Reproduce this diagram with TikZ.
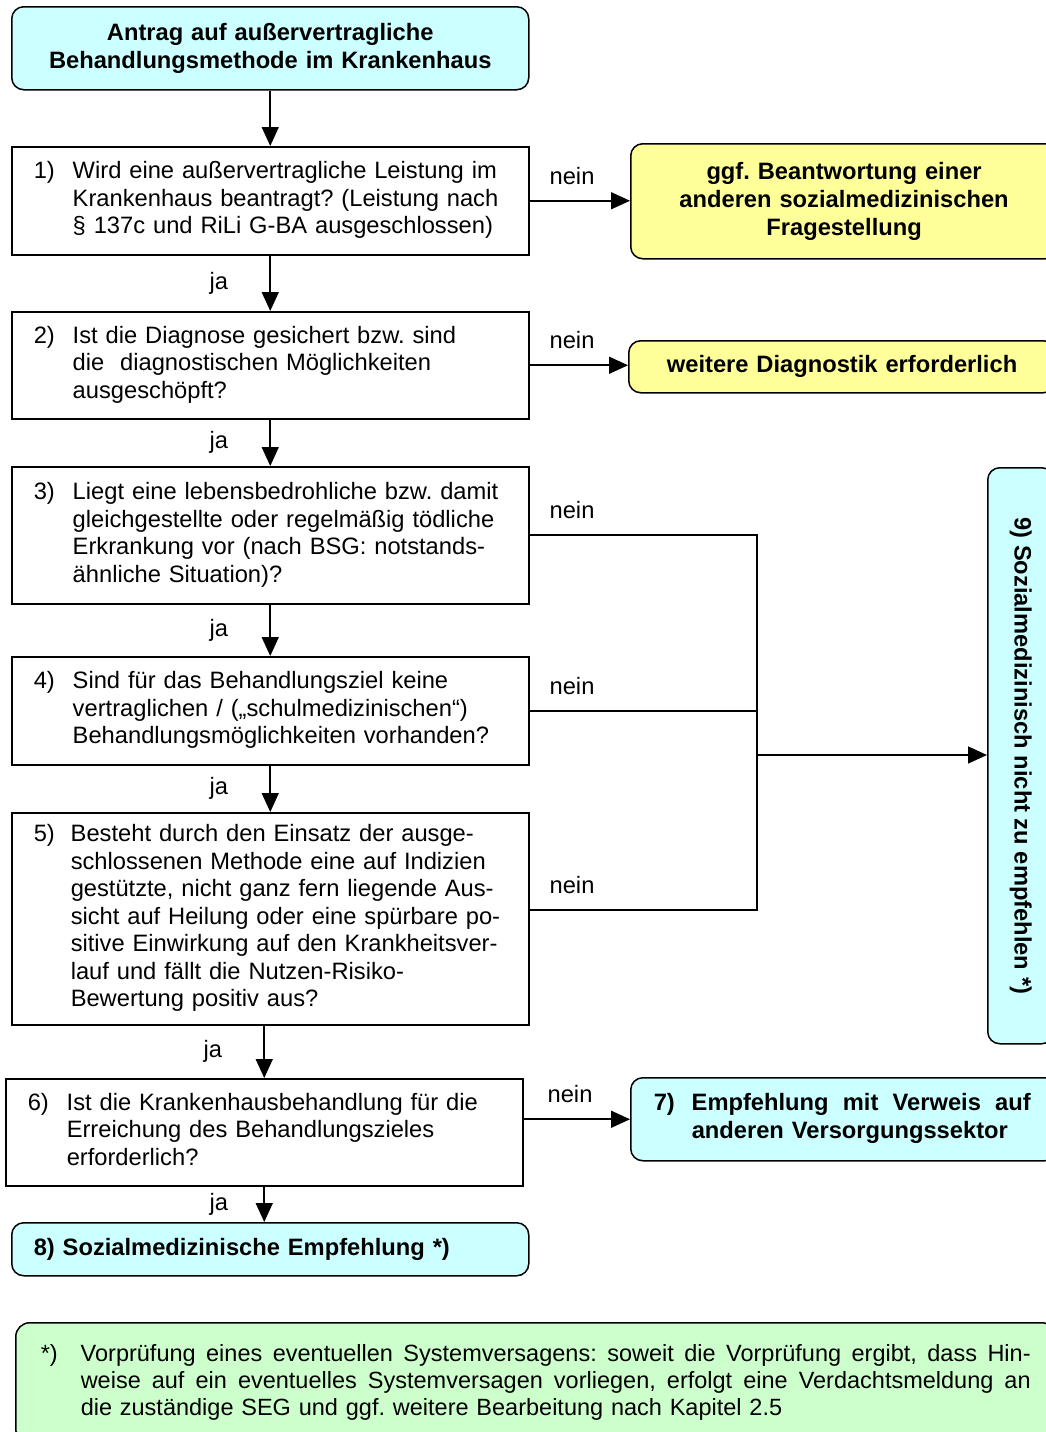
\documentclass[tikz,border=0pt]{standalone}
\usepackage{fontspec}
\setmainfont{Liberation Sans}
\usepackage{xcolor}
\usetikzlibrary{arrows.meta}
\usetikzlibrary{calc}
\frenchspacing

\definecolor{boxcyan}{HTML}{CCFFFF}
\definecolor{boxyellow}{HTML}{FFFF99}
\definecolor{boxgreen}{HTML}{CCFFCC}

\newcommand{\numtext}[3][39pt]{\begin{tabular}{@{}l@{}l@{}}\makebox[#1][l]{#2} & \begin{tabular}[t]{@{}l@{}}#3\end{tabular}\end{tabular}}
\newcommand{\fullline}[2]{\makebox[#1][s]{\spaceskip=0pt\xspaceskip=0pt #2}}

\begin{document}
\begin{tikzpicture}[x=1pt, y=-1pt,
    basefont/.style={font=\fontsize{23.7}{27.5}\selectfont},
    boldfont/.style={font=\fontsize{23.7}{28}\selectfont\bfseries},
    qbox/.style={draw, line width=1.5pt, fill=white, anchor=north west, minimum width=517pt,
      text width=473pt, inner xsep=22pt, basefont},
    endbox/.style={draw, line width=1.5pt, rounded corners=12pt, anchor=north west, boldfont},
    conn/.style={line width=1.6pt},
    arr/.style={conn, -{Triangle[length=19pt,width=17pt]}},
    nolbl/.style={anchor=south west, xshift=16pt, yshift=12pt, basefont},
    yeslbl/.style={anchor=east, xshift=-38pt, basefont}]
    \useasboundingbox (0,0) rectangle (1046,1432);

    \node[endbox, fill=boxcyan, minimum width=517pt, minimum height=83pt, text width=500pt, align=center]
      (antrag) at (11,6) {Antrag auf außervertragliche\\Behandlungsmethode im Krankenhaus};

    \node[qbox, minimum height=108pt] (q1) at (11,146)
      {\numtext{1)}{Wird eine außervertragliche Leistung im\\Krankenhaus beantragt? (Leistung nach\\§ 137c und RiLi G-BA ausgeschlossen)}};
    \node[qbox, minimum height=107pt] (q2) at (11,311)
      {\numtext{2)}{Ist die Diagnose gesichert bzw. sind\\die \ diagnostischen Möglichkeiten\\ausgeschöpft?}};
    \node[qbox, minimum height=137pt] (q3) at (11,466)
      {\numtext{3)}{Liegt eine lebensbedrohliche bzw. damit\\gleichgestellte oder regelmäßig tödliche\\Erkrankung vor (nach BSG: notstands-\\ähnliche Situation)?}};
    \node[qbox, minimum height=108pt] (q4) at (11,656)
      {\numtext{4)}{Sind für das Behandlungsziel keine\\vertraglichen / („schulmedizinischen“)\\Behandlungsmöglichkeiten vorhanden?}};
    \node[qbox, minimum height=212pt] (q5) at (11,812)
      {\numtext[37pt]{5)}{Besteht durch den Einsatz der ausge-\\schlossenen Methode eine auf Indizien\\gestützte, nicht ganz fern liegende Aus-\\sicht auf Heilung oder eine spürbare po-\\sitive Einwirkung auf den Krankheitsver-\\lauf und fällt die Nutzen-Risiko-\\Bewertung positiv aus?}};
    \node[qbox, minimum height=107pt] (q6) at (5,1078)
      {\numtext{6)}{Ist die Krankenhausbehandlung für die\\Erreichung des Behandlungszieles\\erforderlich?}};

    \node[endbox, fill=boxyellow, minimum width=426pt, minimum height=115pt, text width=420pt, align=center]
      (frage) at (630,143) {ggf. Beantwortung einer\\anderen sozialmedizinischen\\Fragestellung};
    \node[endbox, fill=boxyellow, minimum width=424pt, minimum height=52pt, text width=420pt, align=center]
      (diag) at (628,340) {weitere Diagnostik erforderlich};
    \node[endbox, fill=boxcyan, minimum width=66pt, minimum height=576pt]
      (r9) at (987,467) {\rotatebox{-90}{9) Sozialmedizinisch nicht zu empfehlen *)}};
    \node[endbox, fill=boxcyan, minimum width=426pt, minimum height=83pt, text width=380pt, inner xsep=23pt]
      (e7) at (630,1077) {\numtext[38pt]{7)}{\fullline{339pt}{Empfehlung mit Verweis auf}\\anderen Versorgungssektor}};
    \node[endbox, fill=boxcyan, minimum width=517pt, minimum height=53pt, text width=473pt, inner xsep=22pt]
      (e8) at (11,1222) {8) Sozialmedizinische Empfehlung *)};

    \node[draw, line width=1.5pt, rounded corners=14pt, fill=boxgreen, anchor=north west,
      minimum width=1040pt, minimum height=120pt, text width=990pt, inner xsep=25pt,
      font=\fontsize{23.5}{27}\selectfont] (note) at (15,1322)
      {\numtext[40pt]{*)}{\fullline{950pt}{Vorprüfung eines eventuellen Systemversagens: soweit die Vorprüfung ergibt, dass Hin-}\\
        \fullline{950pt}{weise auf ein eventuelles Systemversagen vorliegen, erfolgt eine Verdachtsmeldung an}\\
        die zuständige SEG und ggf. weitere Bearbeitung nach Kapitel 2.5}};

    \coordinate (j) at (757,755);
    \coordinate (q5r) at ($(q5.east)+(0,-9)$);

    \draw[arr] (antrag.south) -- (q1.north);
    \draw[arr] (q1.south) -- node[yeslbl] {ja} (q2.north);
    \draw[arr] (q2.south) -- node[yeslbl] {ja} (q3.north);
    \draw[arr] (q3.south) -- node[yeslbl] {ja} (q4.north);
    \draw[arr] (q4.south) -- node[yeslbl] {ja} (q5.north);
    \draw[arr] (q5.south -| q6.north) -- node[yeslbl] {ja} (q6.north);
    \draw[arr] (q6.south) -- node[yeslbl, xshift=6pt] {ja} (q6.south |- e8.north);

    \draw[arr] (q1.east) node[nolbl] {nein} -- (q1.east -| frage.west);
    \draw[arr] (q2.east) node[nolbl] {nein} -- (q2.east -| diag.west);
    \draw[conn] (q3.east) node[nolbl] {nein} -- (q3.east -| j) -- (q5r -| j) -- (q5r) node[nolbl] {nein};
    \draw[conn] (q4.east) node[nolbl] {nein} -- (q4.east -| j);
    \draw[arr] (j) -- (j -| r9.west);
    \draw[arr] (q6.east |- e7.west) node[nolbl, xshift=4pt] {nein} -- (e7.west);
\end{tikzpicture}
\end{document}
